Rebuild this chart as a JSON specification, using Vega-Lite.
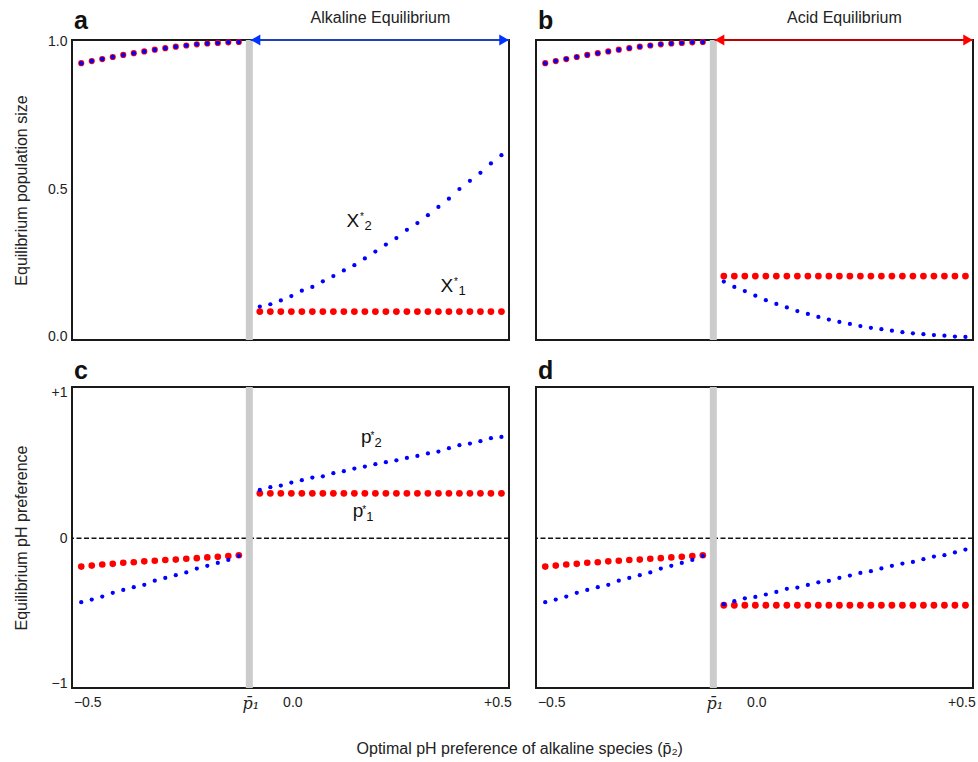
{
"$schema":"https://vega.github.io/schema/vega-lite/v6.json",
"background":"white",
"autosize":{"type":"pad"},
"padding":{"left":12,"top":8,"right":2,"bottom":2},
"datasets":{
"popL":[{"x":-0.5,"y":0.928},{"x":-0.475,"y":0.935},{"x":-0.45,"y":0.942},{"x":-0.425,"y":0.949},{"x":-0.4,"y":0.956},{"x":-0.375,"y":0.962},{"x":-0.35,"y":0.968},{"x":-0.325,"y":0.974},{"x":-0.3,"y":0.979},{"x":-0.275,"y":0.984},{"x":-0.25,"y":0.988},{"x":-0.225,"y":0.992},{"x":-0.2,"y":0.995},{"x":-0.175,"y":0.997},{"x":-0.15,"y":0.999},{"x":-0.125,"y":1.0}],
"popR":[
{"x":-0.075,"a1":0.083,"a2":0.100,"b1":0.204,"b2":0.185},
{"x":-0.05,"a1":0.083,"a2":0.108,"b1":0.204,"b2":0.167},
{"x":-0.025,"a1":0.083,"a2":0.121,"b1":0.204,"b2":0.153},
{"x":0,"a1":0.083,"a2":0.136,"b1":0.204,"b2":0.137},
{"x":0.025,"a1":0.083,"a2":0.154,"b1":0.204,"b2":0.122},
{"x":0.05,"a1":0.083,"a2":0.167,"b1":0.204,"b2":0.109},
{"x":0.075,"a1":0.083,"a2":0.186,"b1":0.204,"b2":0.097},
{"x":0.1,"a1":0.083,"a2":0.204,"b1":0.204,"b2":0.085},
{"x":0.125,"a1":0.083,"a2":0.223,"b1":0.204,"b2":0.075},
{"x":0.15,"a1":0.083,"a2":0.241,"b1":0.204,"b2":0.065},
{"x":0.175,"a1":0.083,"a2":0.264,"b1":0.204,"b2":0.056},
{"x":0.2,"a1":0.083,"a2":0.287,"b1":0.204,"b2":0.048},
{"x":0.225,"a1":0.083,"a2":0.311,"b1":0.204,"b2":0.041},
{"x":0.25,"a1":0.083,"a2":0.333,"b1":0.204,"b2":0.034},
{"x":0.275,"a1":0.083,"a2":0.361,"b1":0.204,"b2":0.028},
{"x":0.3,"a1":0.083,"a2":0.384,"b1":0.204,"b2":0.023},
{"x":0.325,"a1":0.083,"a2":0.411,"b1":0.204,"b2":0.018},
{"x":0.35,"a1":0.083,"a2":0.439,"b1":0.204,"b2":0.013},
{"x":0.375,"a1":0.083,"a2":0.467,"b1":0.204,"b2":0.009},
{"x":0.4,"a1":0.083,"a2":0.500,"b1":0.204,"b2":0.006},
{"x":0.425,"a1":0.083,"a2":0.528,"b1":0.204,"b2":0.003},
{"x":0.45,"a1":0.083,"a2":0.555,"b1":0.204,"b2":0.001},
{"x":0.475,"a1":0.083,"a2":0.587,"b1":0.204,"b2":-0.002},
{"x":0.5,"a1":0.083,"a2":0.615,"b1":0.204,"b2":-0.003}],
"phL":[{"x":-0.5,"p1":-0.195,"p2":-0.440},{"x":-0.475,"p1":-0.188,"p2":-0.422},{"x":-0.45,"p1":-0.181,"p2":-0.401},{"x":-0.425,"p1":-0.176,"p2":-0.375},{"x":-0.4,"p1":-0.169,"p2":-0.356},{"x":-0.375,"p1":-0.165,"p2":-0.337},{"x":-0.35,"p1":-0.159,"p2":-0.320},{"x":-0.325,"p1":-0.155,"p2":-0.292},{"x":-0.3,"p1":-0.150,"p2":-0.273},{"x":-0.275,"p1":-0.147,"p2":-0.254},{"x":-0.25,"p1":-0.141,"p2":-0.235},{"x":-0.225,"p1":-0.137,"p2":-0.209},{"x":-0.2,"p1":-0.132,"p2":-0.190},{"x":-0.175,"p1":-0.128,"p2":-0.170},{"x":-0.15,"p1":-0.122,"p2":-0.149},{"x":-0.125,"p1":-0.117,"p2":-0.122}],
"phR":[
{"x":-0.075,"c1":0.309,"c2":0.332,"d1":-0.461,"d2":-0.454},
{"x":-0.05,"c1":0.309,"c2":0.351,"d1":-0.461,"d2":-0.433},
{"x":-0.025,"c1":0.309,"c2":0.362,"d1":-0.461,"d2":-0.413},
{"x":0,"c1":0.309,"c2":0.383,"d1":-0.461,"d2":-0.404},
{"x":0.025,"c1":0.309,"c2":0.399,"d1":-0.461,"d2":-0.387},
{"x":0.05,"c1":0.309,"c2":0.417,"d1":-0.461,"d2":-0.369},
{"x":0.075,"c1":0.309,"c2":0.426,"d1":-0.461,"d2":-0.348},
{"x":0.1,"c1":0.309,"c2":0.447,"d1":-0.461,"d2":-0.339},
{"x":0.125,"c1":0.309,"c2":0.461,"d1":-0.461,"d2":-0.321},
{"x":0.15,"c1":0.309,"c2":0.479,"d1":-0.461,"d2":-0.303},
{"x":0.175,"c1":0.309,"c2":0.493,"d1":-0.461,"d2":-0.294},
{"x":0.2,"c1":0.309,"c2":0.509,"d1":-0.461,"d2":-0.273},
{"x":0.225,"c1":0.309,"c2":0.523,"d1":-0.461,"d2":-0.257},
{"x":0.25,"c1":0.309,"c2":0.536,"d1":-0.461,"d2":-0.239},
{"x":0.275,"c1":0.309,"c2":0.552,"d1":-0.461,"d2":-0.227},
{"x":0.3,"c1":0.309,"c2":0.566,"d1":-0.461,"d2":-0.208},
{"x":0.325,"c1":0.309,"c2":0.583,"d1":-0.461,"d2":-0.190},
{"x":0.35,"c1":0.309,"c2":0.596,"d1":-0.461,"d2":-0.174},
{"x":0.375,"c1":0.309,"c2":0.619,"d1":-0.461,"d2":-0.163},
{"x":0.4,"c1":0.309,"c2":0.640,"d1":-0.461,"d2":-0.144},
{"x":0.425,"c1":0.309,"c2":0.651,"d1":-0.461,"d2":-0.126},
{"x":0.45,"c1":0.309,"c2":0.667,"d1":-0.461,"d2":-0.117},
{"x":0.475,"c1":0.309,"c2":0.688,"d1":-0.461,"d2":-0.098},
{"x":0.5,"c1":0.309,"c2":0.697,"d1":-0.461,"d2":-0.078}],
"labs":[{"panel":"a","x":0.131,"y":0.371,"base":"X","sup":"*","sub":"2"},{"panel":"a","x":0.355,"y":0.150,"base":"X","sup":"*","sub":"1"},{"panel":"c","x":0.166,"y":0.653,"base":"p","sup":"*","sub":"2"},{"panel":"c","x":0.146,"y":0.144,"base":"p","sup":"*","sub":"1"}],
"regimes":[{"panel":"a","start":-0.097,"end":0.518,"mid":0.212,"label":"Alkaline Equilibrium"},{"panel":"b","start":-0.097,"end":0.518,"mid":0.212,"label":"Acid Equilibrium"}],
"letters":[{"panel":"a","letter":"a"},{"panel":"b","letter":"b"},{"panel":"c","letter":"c"},{"panel":"d","letter":"d"}],
"xtitle":[{"label":"Optimal pH preference of alkaline species (p̄₂)"}]
},
"spacing":13,
"vconcat":[
{"hconcat":[
{"width":437,"height":300,
"layer":[
{"data":{"values":[{}]},"mark":{"type":"rule","color":"#cccccc","strokeWidth":7},"encoding":{"x":{"datum":-0.1,"type":"quantitative","scale":{"domain":[-0.522,0.518],"nice":false,"zero":false},"axis":null}}},
{"data":{"name":"popL"},"mark":{"type":"circle","color":"#ff0000","size":38,"opacity":1},"encoding":{"x":{"field":"x","type":"quantitative","scale":{"domain":[-0.522,0.518],"nice":false,"zero":false},"axis":null},"y":{"field":"y","type":"quantitative","scale":{"domain":[-0.0136,1.0068],"nice":false,"zero":false},"axis":{"values":[0,0.5,1],"format":".1f","title":"Equilibrium population size","titlePadding":18}}}},
{"data":{"name":"popL"},"mark":{"type":"circle","color":"#0000ff","size":20,"opacity":1},"encoding":{"x":{"field":"x","type":"quantitative","scale":{"domain":[-0.522,0.518],"nice":false,"zero":false},"axis":null},"y":{"field":"y","type":"quantitative","scale":{"domain":[-0.0136,1.0068],"nice":false,"zero":false},"axis":{"values":[0,0.5,1],"format":".1f","title":"Equilibrium population size","titlePadding":18}}}},
{"data":{"name":"popR"},"mark":{"type":"circle","color":"#ff0000","size":46,"opacity":1},"encoding":{"x":{"field":"x","type":"quantitative","scale":{"domain":[-0.522,0.518],"nice":false,"zero":false},"axis":null},"y":{"field":"a1","type":"quantitative","scale":{"domain":[-0.0136,1.0068],"nice":false,"zero":false},"axis":{"values":[0,0.5,1],"format":".1f","title":"Equilibrium population size","titlePadding":18}}}},
{"data":{"name":"popR"},"mark":{"type":"circle","color":"#0000ff","size":18,"opacity":1},"encoding":{"x":{"field":"x","type":"quantitative","scale":{"domain":[-0.522,0.518],"nice":false,"zero":false},"axis":null},"y":{"field":"a2","type":"quantitative","scale":{"domain":[-0.0136,1.0068],"nice":false,"zero":false},"axis":{"values":[0,0.5,1],"format":".1f","title":"Equilibrium population size","titlePadding":18}}}},
{"data":{"name":"regimes"},"transform":[{"filter":"datum.panel == 'a'"}],"mark":{"type":"rule","color":"#1f3fc0","strokeWidth":2},"encoding":{"x":{"field":"start","type":"quantitative","scale":{"domain":[-0.522,0.518],"nice":false,"zero":false},"axis":null},"x2":{"field":"end"},"y":{"datum":1.0068,"type":"quantitative","scale":{"domain":[-0.0136,1.0068],"nice":false,"zero":false},"axis":{"values":[0,0.5,1],"format":".1f","title":"Equilibrium population size","titlePadding":18}}}},
{"data":{"name":"regimes"},"transform":[{"filter":"datum.panel == 'a'"}],"mark":{"type":"point","shape":"triangle-left","filled":true,"color":"#0033ff","size":120,"opacity":1,"xOffset":5},"encoding":{"x":{"field":"start","type":"quantitative","scale":{"domain":[-0.522,0.518],"nice":false,"zero":false},"axis":null},"y":{"datum":1.0068,"type":"quantitative","scale":{"domain":[-0.0136,1.0068],"nice":false,"zero":false},"axis":{"values":[0,0.5,1],"format":".1f","title":"Equilibrium population size","titlePadding":18}}}},
{"data":{"name":"regimes"},"transform":[{"filter":"datum.panel == 'a'"}],"mark":{"type":"point","shape":"triangle-right","filled":true,"color":"#0033ff","size":120,"opacity":1,"xOffset":-5},"encoding":{"x":{"field":"end","type":"quantitative","scale":{"domain":[-0.522,0.518],"nice":false,"zero":false},"axis":null},"y":{"datum":1.0068,"type":"quantitative","scale":{"domain":[-0.0136,1.0068],"nice":false,"zero":false},"axis":{"values":[0,0.5,1],"format":".1f","title":"Equilibrium population size","titlePadding":18}}}},
{"data":{"name":"regimes"},"transform":[{"filter":"datum.panel == 'a'"}],"mark":{"type":"text","fontSize":16,"dy":-22,"color":"#222"},"encoding":{"x":{"field":"mid","type":"quantitative","scale":{"domain":[-0.522,0.518],"nice":false,"zero":false},"axis":null},"y":{"datum":1.0068,"type":"quantitative","scale":{"domain":[-0.0136,1.0068],"nice":false,"zero":false},"axis":{"values":[0,0.5,1],"format":".1f","title":"Equilibrium population size","titlePadding":18}},"text":{"field":"label"}}},
{"data":{"name":"letters"},"transform":[{"filter":"datum.panel == 'a'"}],"mark":{"type":"text","fontSize":25,"fontWeight":"bold","align":"left","baseline":"alphabetic","dx":2,"dy":-11,"color":"#111"},"encoding":{"x":{"datum":-0.522,"type":"quantitative","scale":{"domain":[-0.522,0.518],"nice":false,"zero":false},"axis":null},"y":{"datum":1.0068,"type":"quantitative","scale":{"domain":[-0.0136,1.0068],"nice":false,"zero":false},"axis":{"values":[0,0.5,1],"format":".1f","title":"Equilibrium population size","titlePadding":18}},"text":{"field":"letter"}}},
{"data":{"name":"labs"},"transform":[{"filter":"datum.panel == 'a'"}],"mark":{"type":"text","fontSize":19,"align":"left","baseline":"alphabetic","color":"#111"},"encoding":{"x":{"field":"x","type":"quantitative","scale":{"domain":[-0.522,0.518],"nice":false,"zero":false},"axis":null},"y":{"field":"y","type":"quantitative","scale":{"domain":[-0.0136,1.0068],"nice":false,"zero":false},"axis":{"values":[0,0.5,1],"format":".1f","title":"Equilibrium population size","titlePadding":18}},"text":{"field":"base"}}},
{"data":{"name":"labs"},"transform":[{"filter":"datum.panel == 'a'"}],"mark":{"type":"text","fontSize":10,"align":"left","baseline":"alphabetic","dx":13.5,"dy":-7,"color":"#111"},"encoding":{"x":{"field":"x","type":"quantitative","scale":{"domain":[-0.522,0.518],"nice":false,"zero":false},"axis":null},"y":{"field":"y","type":"quantitative","scale":{"domain":[-0.0136,1.0068],"nice":false,"zero":false},"axis":{"values":[0,0.5,1],"format":".1f","title":"Equilibrium population size","titlePadding":18}},"text":{"field":"sup"}}},
{"data":{"name":"labs"},"transform":[{"filter":"datum.panel == 'a'"}],"mark":{"type":"text","fontSize":13,"align":"left","baseline":"alphabetic","dx":18,"dy":3,"color":"#111"},"encoding":{"x":{"field":"x","type":"quantitative","scale":{"domain":[-0.522,0.518],"nice":false,"zero":false},"axis":null},"y":{"field":"y","type":"quantitative","scale":{"domain":[-0.0136,1.0068],"nice":false,"zero":false},"axis":{"values":[0,0.5,1],"format":".1f","title":"Equilibrium population size","titlePadding":18}},"text":{"field":"sub"}}}
]},
{"width":437,"height":300,
"layer":[
{"data":{"values":[{}]},"mark":{"type":"rule","color":"#cccccc","strokeWidth":7},"encoding":{"x":{"datum":-0.1,"type":"quantitative","scale":{"domain":[-0.522,0.518],"nice":false,"zero":false},"axis":null}}},
{"data":{"name":"popL"},"mark":{"type":"circle","color":"#ff0000","size":38,"opacity":1},"encoding":{"x":{"field":"x","type":"quantitative","scale":{"domain":[-0.522,0.518],"nice":false,"zero":false},"axis":null},"y":{"field":"y","type":"quantitative","scale":{"domain":[-0.0136,1.0068],"nice":false,"zero":false},"axis":null}}},
{"data":{"name":"popL"},"mark":{"type":"circle","color":"#0000ff","size":20,"opacity":1},"encoding":{"x":{"field":"x","type":"quantitative","scale":{"domain":[-0.522,0.518],"nice":false,"zero":false},"axis":null},"y":{"field":"y","type":"quantitative","scale":{"domain":[-0.0136,1.0068],"nice":false,"zero":false},"axis":null}}},
{"data":{"name":"popR"},"mark":{"type":"circle","color":"#ff0000","size":46,"opacity":1},"encoding":{"x":{"field":"x","type":"quantitative","scale":{"domain":[-0.522,0.518],"nice":false,"zero":false},"axis":null},"y":{"field":"b1","type":"quantitative","scale":{"domain":[-0.0136,1.0068],"nice":false,"zero":false},"axis":null}}},
{"data":{"name":"popR"},"mark":{"type":"circle","color":"#0000ff","size":18,"opacity":1},"encoding":{"x":{"field":"x","type":"quantitative","scale":{"domain":[-0.522,0.518],"nice":false,"zero":false},"axis":null},"y":{"field":"b2","type":"quantitative","scale":{"domain":[-0.0136,1.0068],"nice":false,"zero":false},"axis":null}}},
{"data":{"name":"regimes"},"transform":[{"filter":"datum.panel == 'b'"}],"mark":{"type":"rule","color":"#c00000","strokeWidth":2},"encoding":{"x":{"field":"start","type":"quantitative","scale":{"domain":[-0.522,0.518],"nice":false,"zero":false},"axis":null},"x2":{"field":"end"},"y":{"datum":1.0068,"type":"quantitative","scale":{"domain":[-0.0136,1.0068],"nice":false,"zero":false},"axis":null}}},
{"data":{"name":"regimes"},"transform":[{"filter":"datum.panel == 'b'"}],"mark":{"type":"point","shape":"triangle-left","filled":true,"color":"#ff0000","size":120,"opacity":1,"xOffset":5},"encoding":{"x":{"field":"start","type":"quantitative","scale":{"domain":[-0.522,0.518],"nice":false,"zero":false},"axis":null},"y":{"datum":1.0068,"type":"quantitative","scale":{"domain":[-0.0136,1.0068],"nice":false,"zero":false},"axis":null}}},
{"data":{"name":"regimes"},"transform":[{"filter":"datum.panel == 'b'"}],"mark":{"type":"point","shape":"triangle-right","filled":true,"color":"#ff0000","size":120,"opacity":1,"xOffset":-5},"encoding":{"x":{"field":"end","type":"quantitative","scale":{"domain":[-0.522,0.518],"nice":false,"zero":false},"axis":null},"y":{"datum":1.0068,"type":"quantitative","scale":{"domain":[-0.0136,1.0068],"nice":false,"zero":false},"axis":null}}},
{"data":{"name":"regimes"},"transform":[{"filter":"datum.panel == 'b'"}],"mark":{"type":"text","fontSize":16,"dy":-22,"color":"#222"},"encoding":{"x":{"field":"mid","type":"quantitative","scale":{"domain":[-0.522,0.518],"nice":false,"zero":false},"axis":null},"y":{"datum":1.0068,"type":"quantitative","scale":{"domain":[-0.0136,1.0068],"nice":false,"zero":false},"axis":null},"text":{"field":"label"}}},
{"data":{"name":"letters"},"transform":[{"filter":"datum.panel == 'b'"}],"mark":{"type":"text","fontSize":25,"fontWeight":"bold","align":"left","baseline":"alphabetic","dx":2,"dy":-11,"color":"#111"},"encoding":{"x":{"datum":-0.522,"type":"quantitative","scale":{"domain":[-0.522,0.518],"nice":false,"zero":false},"axis":null},"y":{"datum":1.0068,"type":"quantitative","scale":{"domain":[-0.0136,1.0068],"nice":false,"zero":false},"axis":null},"text":{"field":"letter"}}}
]}
],"spacing":27,"bounds":"flush"},
{"hconcat":[
{"width":437,"height":301,
"layer":[
{"data":{"values":[{}]},"mark":{"type":"rule","color":"#111","strokeWidth":1.5,"strokeDash":[5,2.5]},"encoding":{"y":{"datum":0,"type":"quantitative","scale":{"domain":[-1.03,1.04],"nice":false,"zero":false},"axis":{"values":[-1,0,1],"labelExpr":"datum.value > 0 ? '+1' : datum.value < 0 ? '−1' : '0'","title":"Equilibrium pH preference","titlePadding":22}}}},
{"data":{"values":[{}]},"mark":{"type":"rule","color":"#cccccc","strokeWidth":7},"encoding":{"x":{"datum":-0.1,"type":"quantitative","scale":{"domain":[-0.522,0.518],"nice":false,"zero":false},"axis":{"values":[-0.5,-0.1,0,0.5],"title":null,"labelPadding":7,"labelExpr":"datum.value == -0.5 ? '−0.5' : datum.value == 0.5 ? '+0.5' : datum.value == 0 ? '0.0' : 'p̄₁'","labelFont":{"condition":{"test":"datum.value == -0.1","value":"DejaVu Serif"},"value":"Liberation Sans"},"labelFontStyle":{"condition":{"test":"datum.value == -0.1","value":"italic"},"value":"normal"},"labelFontSize":{"condition":{"test":"datum.value == -0.1","value":16},"value":14},"labelOffset":{"condition":[{"test":"datum.value == -0.5","value":6},{"test":"datum.value == 0.5","value":-4}],"value":1}}}}},
{"data":{"name":"phL"},"mark":{"type":"circle","color":"#ff0000","size":44,"opacity":1},"encoding":{"x":{"field":"x","type":"quantitative","scale":{"domain":[-0.522,0.518],"nice":false,"zero":false},"axis":{"values":[-0.5,-0.1,0,0.5],"title":null,"labelPadding":7,"labelExpr":"datum.value == -0.5 ? '−0.5' : datum.value == 0.5 ? '+0.5' : datum.value == 0 ? '0.0' : 'p̄₁'","labelFont":{"condition":{"test":"datum.value == -0.1","value":"DejaVu Serif"},"value":"Liberation Sans"},"labelFontStyle":{"condition":{"test":"datum.value == -0.1","value":"italic"},"value":"normal"},"labelFontSize":{"condition":{"test":"datum.value == -0.1","value":16},"value":14},"labelOffset":{"condition":[{"test":"datum.value == -0.5","value":6},{"test":"datum.value == 0.5","value":-4}],"value":1}}},"y":{"field":"p1","type":"quantitative","scale":{"domain":[-1.03,1.04],"nice":false,"zero":false},"axis":{"values":[-1,0,1],"labelExpr":"datum.value > 0 ? '+1' : datum.value < 0 ? '−1' : '0'","title":"Equilibrium pH preference","titlePadding":22}}}},
{"data":{"name":"phL"},"mark":{"type":"circle","color":"#0000ff","size":18,"opacity":1},"encoding":{"x":{"field":"x","type":"quantitative","scale":{"domain":[-0.522,0.518],"nice":false,"zero":false},"axis":{"values":[-0.5,-0.1,0,0.5],"title":null,"labelPadding":7,"labelExpr":"datum.value == -0.5 ? '−0.5' : datum.value == 0.5 ? '+0.5' : datum.value == 0 ? '0.0' : 'p̄₁'","labelFont":{"condition":{"test":"datum.value == -0.1","value":"DejaVu Serif"},"value":"Liberation Sans"},"labelFontStyle":{"condition":{"test":"datum.value == -0.1","value":"italic"},"value":"normal"},"labelFontSize":{"condition":{"test":"datum.value == -0.1","value":16},"value":14},"labelOffset":{"condition":[{"test":"datum.value == -0.5","value":6},{"test":"datum.value == 0.5","value":-4}],"value":1}}},"y":{"field":"p2","type":"quantitative","scale":{"domain":[-1.03,1.04],"nice":false,"zero":false},"axis":{"values":[-1,0,1],"labelExpr":"datum.value > 0 ? '+1' : datum.value < 0 ? '−1' : '0'","title":"Equilibrium pH preference","titlePadding":22}}}},
{"data":{"name":"phR"},"mark":{"type":"circle","color":"#ff0000","size":46,"opacity":1},"encoding":{"x":{"field":"x","type":"quantitative","scale":{"domain":[-0.522,0.518],"nice":false,"zero":false},"axis":{"values":[-0.5,-0.1,0,0.5],"title":null,"labelPadding":7,"labelExpr":"datum.value == -0.5 ? '−0.5' : datum.value == 0.5 ? '+0.5' : datum.value == 0 ? '0.0' : 'p̄₁'","labelFont":{"condition":{"test":"datum.value == -0.1","value":"DejaVu Serif"},"value":"Liberation Sans"},"labelFontStyle":{"condition":{"test":"datum.value == -0.1","value":"italic"},"value":"normal"},"labelFontSize":{"condition":{"test":"datum.value == -0.1","value":16},"value":14},"labelOffset":{"condition":[{"test":"datum.value == -0.5","value":6},{"test":"datum.value == 0.5","value":-4}],"value":1}}},"y":{"field":"c1","type":"quantitative","scale":{"domain":[-1.03,1.04],"nice":false,"zero":false},"axis":{"values":[-1,0,1],"labelExpr":"datum.value > 0 ? '+1' : datum.value < 0 ? '−1' : '0'","title":"Equilibrium pH preference","titlePadding":22}}}},
{"data":{"name":"phR"},"mark":{"type":"circle","color":"#0000ff","size":18,"opacity":1},"encoding":{"x":{"field":"x","type":"quantitative","scale":{"domain":[-0.522,0.518],"nice":false,"zero":false},"axis":{"values":[-0.5,-0.1,0,0.5],"title":null,"labelPadding":7,"labelExpr":"datum.value == -0.5 ? '−0.5' : datum.value == 0.5 ? '+0.5' : datum.value == 0 ? '0.0' : 'p̄₁'","labelFont":{"condition":{"test":"datum.value == -0.1","value":"DejaVu Serif"},"value":"Liberation Sans"},"labelFontStyle":{"condition":{"test":"datum.value == -0.1","value":"italic"},"value":"normal"},"labelFontSize":{"condition":{"test":"datum.value == -0.1","value":16},"value":14},"labelOffset":{"condition":[{"test":"datum.value == -0.5","value":6},{"test":"datum.value == 0.5","value":-4}],"value":1}}},"y":{"field":"c2","type":"quantitative","scale":{"domain":[-1.03,1.04],"nice":false,"zero":false},"axis":{"values":[-1,0,1],"labelExpr":"datum.value > 0 ? '+1' : datum.value < 0 ? '−1' : '0'","title":"Equilibrium pH preference","titlePadding":22}}}},
{"data":{"name":"letters"},"transform":[{"filter":"datum.panel == 'c'"}],"mark":{"type":"text","fontSize":25,"fontWeight":"bold","align":"left","baseline":"alphabetic","dx":2,"dy":-8,"color":"#111"},"encoding":{"x":{"datum":-0.522,"type":"quantitative","scale":{"domain":[-0.522,0.518],"nice":false,"zero":false},"axis":{"values":[-0.5,-0.1,0,0.5],"title":null,"labelPadding":7,"labelExpr":"datum.value == -0.5 ? '−0.5' : datum.value == 0.5 ? '+0.5' : datum.value == 0 ? '0.0' : 'p̄₁'","labelFont":{"condition":{"test":"datum.value == -0.1","value":"DejaVu Serif"},"value":"Liberation Sans"},"labelFontStyle":{"condition":{"test":"datum.value == -0.1","value":"italic"},"value":"normal"},"labelFontSize":{"condition":{"test":"datum.value == -0.1","value":16},"value":14},"labelOffset":{"condition":[{"test":"datum.value == -0.5","value":6},{"test":"datum.value == 0.5","value":-4}],"value":1}}},"y":{"datum":1.04,"type":"quantitative","scale":{"domain":[-1.03,1.04],"nice":false,"zero":false},"axis":{"values":[-1,0,1],"labelExpr":"datum.value > 0 ? '+1' : datum.value < 0 ? '−1' : '0'","title":"Equilibrium pH preference","titlePadding":22}},"text":{"field":"letter"}}},
{"data":{"name":"xtitle"},"mark":{"type":"text","fontSize":16,"baseline":"middle","align":"center","dy":61,"color":"#222"},"encoding":{"x":{"datum":0.5436,"type":"quantitative","scale":{"domain":[-0.522,0.518],"nice":false,"zero":false},"axis":{"values":[-0.5,-0.1,0,0.5],"title":null,"labelPadding":7,"labelExpr":"datum.value == -0.5 ? '−0.5' : datum.value == 0.5 ? '+0.5' : datum.value == 0 ? '0.0' : 'p̄₁'","labelFont":{"condition":{"test":"datum.value == -0.1","value":"DejaVu Serif"},"value":"Liberation Sans"},"labelFontStyle":{"condition":{"test":"datum.value == -0.1","value":"italic"},"value":"normal"},"labelFontSize":{"condition":{"test":"datum.value == -0.1","value":16},"value":14},"labelOffset":{"condition":[{"test":"datum.value == -0.5","value":6},{"test":"datum.value == 0.5","value":-4}],"value":1}}},"y":{"datum":-1.03,"type":"quantitative","scale":{"domain":[-1.03,1.04],"nice":false,"zero":false},"axis":{"values":[-1,0,1],"labelExpr":"datum.value > 0 ? '+1' : datum.value < 0 ? '−1' : '0'","title":"Equilibrium pH preference","titlePadding":22}},"text":{"field":"label"}}},
{"data":{"name":"labs"},"transform":[{"filter":"datum.panel == 'c'"}],"mark":{"type":"text","fontSize":19,"align":"left","baseline":"alphabetic","color":"#111"},"encoding":{"x":{"field":"x","type":"quantitative","scale":{"domain":[-0.522,0.518],"nice":false,"zero":false},"axis":{"values":[-0.5,-0.1,0,0.5],"title":null,"labelPadding":7,"labelExpr":"datum.value == -0.5 ? '−0.5' : datum.value == 0.5 ? '+0.5' : datum.value == 0 ? '0.0' : 'p̄₁'","labelFont":{"condition":{"test":"datum.value == -0.1","value":"DejaVu Serif"},"value":"Liberation Sans"},"labelFontStyle":{"condition":{"test":"datum.value == -0.1","value":"italic"},"value":"normal"},"labelFontSize":{"condition":{"test":"datum.value == -0.1","value":16},"value":14},"labelOffset":{"condition":[{"test":"datum.value == -0.5","value":6},{"test":"datum.value == 0.5","value":-4}],"value":1}}},"y":{"field":"y","type":"quantitative","scale":{"domain":[-1.03,1.04],"nice":false,"zero":false},"axis":{"values":[-1,0,1],"labelExpr":"datum.value > 0 ? '+1' : datum.value < 0 ? '−1' : '0'","title":"Equilibrium pH preference","titlePadding":22}},"text":{"field":"base"}}},
{"data":{"name":"labs"},"transform":[{"filter":"datum.panel == 'c'"}],"mark":{"type":"text","fontSize":10,"align":"left","baseline":"alphabetic","dx":9.5,"dy":-4,"color":"#111"},"encoding":{"x":{"field":"x","type":"quantitative","scale":{"domain":[-0.522,0.518],"nice":false,"zero":false},"axis":{"values":[-0.5,-0.1,0,0.5],"title":null,"labelPadding":7,"labelExpr":"datum.value == -0.5 ? '−0.5' : datum.value == 0.5 ? '+0.5' : datum.value == 0 ? '0.0' : 'p̄₁'","labelFont":{"condition":{"test":"datum.value == -0.1","value":"DejaVu Serif"},"value":"Liberation Sans"},"labelFontStyle":{"condition":{"test":"datum.value == -0.1","value":"italic"},"value":"normal"},"labelFontSize":{"condition":{"test":"datum.value == -0.1","value":16},"value":14},"labelOffset":{"condition":[{"test":"datum.value == -0.5","value":6},{"test":"datum.value == 0.5","value":-4}],"value":1}}},"y":{"field":"y","type":"quantitative","scale":{"domain":[-1.03,1.04],"nice":false,"zero":false},"axis":{"values":[-1,0,1],"labelExpr":"datum.value > 0 ? '+1' : datum.value < 0 ? '−1' : '0'","title":"Equilibrium pH preference","titlePadding":22}},"text":{"field":"sup"}}},
{"data":{"name":"labs"},"transform":[{"filter":"datum.panel == 'c'"}],"mark":{"type":"text","fontSize":13,"align":"left","baseline":"alphabetic","dx":13.5,"dy":4,"color":"#111"},"encoding":{"x":{"field":"x","type":"quantitative","scale":{"domain":[-0.522,0.518],"nice":false,"zero":false},"axis":{"values":[-0.5,-0.1,0,0.5],"title":null,"labelPadding":7,"labelExpr":"datum.value == -0.5 ? '−0.5' : datum.value == 0.5 ? '+0.5' : datum.value == 0 ? '0.0' : 'p̄₁'","labelFont":{"condition":{"test":"datum.value == -0.1","value":"DejaVu Serif"},"value":"Liberation Sans"},"labelFontStyle":{"condition":{"test":"datum.value == -0.1","value":"italic"},"value":"normal"},"labelFontSize":{"condition":{"test":"datum.value == -0.1","value":16},"value":14},"labelOffset":{"condition":[{"test":"datum.value == -0.5","value":6},{"test":"datum.value == 0.5","value":-4}],"value":1}}},"y":{"field":"y","type":"quantitative","scale":{"domain":[-1.03,1.04],"nice":false,"zero":false},"axis":{"values":[-1,0,1],"labelExpr":"datum.value > 0 ? '+1' : datum.value < 0 ? '−1' : '0'","title":"Equilibrium pH preference","titlePadding":22}},"text":{"field":"sub"}}}
]},
{"width":437,"height":301,
"layer":[
{"data":{"values":[{}]},"mark":{"type":"rule","color":"#111","strokeWidth":1.5,"strokeDash":[5,2.5]},"encoding":{"y":{"datum":0,"type":"quantitative","scale":{"domain":[-1.03,1.04],"nice":false,"zero":false},"axis":null}}},
{"data":{"values":[{}]},"mark":{"type":"rule","color":"#cccccc","strokeWidth":7},"encoding":{"x":{"datum":-0.1,"type":"quantitative","scale":{"domain":[-0.522,0.518],"nice":false,"zero":false},"axis":{"values":[-0.5,-0.1,0,0.5],"title":null,"labelPadding":7,"labelExpr":"datum.value == -0.5 ? '−0.5' : datum.value == 0.5 ? '+0.5' : datum.value == 0 ? '0.0' : 'p̄₁'","labelFont":{"condition":{"test":"datum.value == -0.1","value":"DejaVu Serif"},"value":"Liberation Sans"},"labelFontStyle":{"condition":{"test":"datum.value == -0.1","value":"italic"},"value":"normal"},"labelFontSize":{"condition":{"test":"datum.value == -0.1","value":16},"value":14},"labelOffset":{"condition":[{"test":"datum.value == -0.5","value":6},{"test":"datum.value == 0.5","value":-4}],"value":1}}}}},
{"data":{"name":"phL"},"mark":{"type":"circle","color":"#ff0000","size":44,"opacity":1},"encoding":{"x":{"field":"x","type":"quantitative","scale":{"domain":[-0.522,0.518],"nice":false,"zero":false},"axis":{"values":[-0.5,-0.1,0,0.5],"title":null,"labelPadding":7,"labelExpr":"datum.value == -0.5 ? '−0.5' : datum.value == 0.5 ? '+0.5' : datum.value == 0 ? '0.0' : 'p̄₁'","labelFont":{"condition":{"test":"datum.value == -0.1","value":"DejaVu Serif"},"value":"Liberation Sans"},"labelFontStyle":{"condition":{"test":"datum.value == -0.1","value":"italic"},"value":"normal"},"labelFontSize":{"condition":{"test":"datum.value == -0.1","value":16},"value":14},"labelOffset":{"condition":[{"test":"datum.value == -0.5","value":6},{"test":"datum.value == 0.5","value":-4}],"value":1}}},"y":{"field":"p1","type":"quantitative","scale":{"domain":[-1.03,1.04],"nice":false,"zero":false},"axis":null}}},
{"data":{"name":"phL"},"mark":{"type":"circle","color":"#0000ff","size":18,"opacity":1},"encoding":{"x":{"field":"x","type":"quantitative","scale":{"domain":[-0.522,0.518],"nice":false,"zero":false},"axis":{"values":[-0.5,-0.1,0,0.5],"title":null,"labelPadding":7,"labelExpr":"datum.value == -0.5 ? '−0.5' : datum.value == 0.5 ? '+0.5' : datum.value == 0 ? '0.0' : 'p̄₁'","labelFont":{"condition":{"test":"datum.value == -0.1","value":"DejaVu Serif"},"value":"Liberation Sans"},"labelFontStyle":{"condition":{"test":"datum.value == -0.1","value":"italic"},"value":"normal"},"labelFontSize":{"condition":{"test":"datum.value == -0.1","value":16},"value":14},"labelOffset":{"condition":[{"test":"datum.value == -0.5","value":6},{"test":"datum.value == 0.5","value":-4}],"value":1}}},"y":{"field":"p2","type":"quantitative","scale":{"domain":[-1.03,1.04],"nice":false,"zero":false},"axis":null}}},
{"data":{"name":"phR"},"mark":{"type":"circle","color":"#ff0000","size":46,"opacity":1},"encoding":{"x":{"field":"x","type":"quantitative","scale":{"domain":[-0.522,0.518],"nice":false,"zero":false},"axis":{"values":[-0.5,-0.1,0,0.5],"title":null,"labelPadding":7,"labelExpr":"datum.value == -0.5 ? '−0.5' : datum.value == 0.5 ? '+0.5' : datum.value == 0 ? '0.0' : 'p̄₁'","labelFont":{"condition":{"test":"datum.value == -0.1","value":"DejaVu Serif"},"value":"Liberation Sans"},"labelFontStyle":{"condition":{"test":"datum.value == -0.1","value":"italic"},"value":"normal"},"labelFontSize":{"condition":{"test":"datum.value == -0.1","value":16},"value":14},"labelOffset":{"condition":[{"test":"datum.value == -0.5","value":6},{"test":"datum.value == 0.5","value":-4}],"value":1}}},"y":{"field":"d1","type":"quantitative","scale":{"domain":[-1.03,1.04],"nice":false,"zero":false},"axis":null}}},
{"data":{"name":"phR"},"mark":{"type":"circle","color":"#0000ff","size":18,"opacity":1},"encoding":{"x":{"field":"x","type":"quantitative","scale":{"domain":[-0.522,0.518],"nice":false,"zero":false},"axis":{"values":[-0.5,-0.1,0,0.5],"title":null,"labelPadding":7,"labelExpr":"datum.value == -0.5 ? '−0.5' : datum.value == 0.5 ? '+0.5' : datum.value == 0 ? '0.0' : 'p̄₁'","labelFont":{"condition":{"test":"datum.value == -0.1","value":"DejaVu Serif"},"value":"Liberation Sans"},"labelFontStyle":{"condition":{"test":"datum.value == -0.1","value":"italic"},"value":"normal"},"labelFontSize":{"condition":{"test":"datum.value == -0.1","value":16},"value":14},"labelOffset":{"condition":[{"test":"datum.value == -0.5","value":6},{"test":"datum.value == 0.5","value":-4}],"value":1}}},"y":{"field":"d2","type":"quantitative","scale":{"domain":[-1.03,1.04],"nice":false,"zero":false},"axis":null}}},
{"data":{"name":"letters"},"transform":[{"filter":"datum.panel == 'd'"}],"mark":{"type":"text","fontSize":25,"fontWeight":"bold","align":"left","baseline":"alphabetic","dx":2,"dy":-8,"color":"#111"},"encoding":{"x":{"datum":-0.522,"type":"quantitative","scale":{"domain":[-0.522,0.518],"nice":false,"zero":false},"axis":{"values":[-0.5,-0.1,0,0.5],"title":null,"labelPadding":7,"labelExpr":"datum.value == -0.5 ? '−0.5' : datum.value == 0.5 ? '+0.5' : datum.value == 0 ? '0.0' : 'p̄₁'","labelFont":{"condition":{"test":"datum.value == -0.1","value":"DejaVu Serif"},"value":"Liberation Sans"},"labelFontStyle":{"condition":{"test":"datum.value == -0.1","value":"italic"},"value":"normal"},"labelFontSize":{"condition":{"test":"datum.value == -0.1","value":16},"value":14},"labelOffset":{"condition":[{"test":"datum.value == -0.5","value":6},{"test":"datum.value == 0.5","value":-4}],"value":1}}},"y":{"datum":1.04,"type":"quantitative","scale":{"domain":[-1.03,1.04],"nice":false,"zero":false},"axis":null},"text":{"field":"letter"}}}
]}
],"spacing":27,"bounds":"flush"}
],
"config":{
"view":{"stroke":"#1a1a1a","strokeWidth":2},
"axis":{"domain":false,"ticks":false,"grid":false,"labelFont":"Liberation Sans","labelFontSize":14,"labelColor":"#222","titleFont":"Liberation Sans","titleFontSize":16,"titleFontWeight":"normal","titleColor":"#222","labelPadding":5},
"text":{"font":"Liberation Sans"}
}
}
